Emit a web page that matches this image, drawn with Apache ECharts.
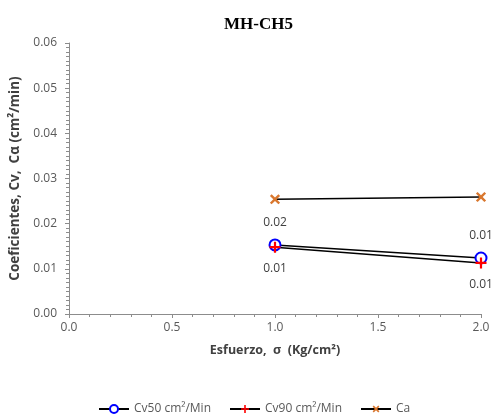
<!DOCTYPE html>
<html><head><meta charset="utf-8">
<script src="https://cdn.jsdelivr.net/npm/echarts@6/dist/echarts.min.js"></script>
<style>html,body{margin:0;padding:0;background:#fff}#c{width:493px;height:419px}</style>
</head><body><div id="c"></div>
<script>
const esfuerzo = [1.0, 2.0];
const cv50 = [0.0153, 0.0124];
const cv90 = [0.0148, 0.0113];
const ca = [0.0254, 0.0259];
const seriesNames = ['Cv50 cm²/Min', 'Cv90 cm²/Min', 'Ca'];
const title = 'MH-CH5';

const pair = arr => esfuerzo.map((x, i) => [x, arr[i]]);
const plusPath = 'path://M4,0H6V4H10V6H6V10H4V6H0V4H4Z';
const lbl = (pos) => ({show: true, position: pos, distance: 10, color: '#404040', fontSize: 12,
  fontFamily: 'Open Sans', formatter: p => p.value[1].toFixed(2)});

const chart = echarts.init(document.getElementById('c'));
chart.setOption({
  animation: false,
  title: {text: title, left: 219, top: 11, textStyle: {fontFamily: 'Liberation Serif', fontWeight: 'bold', fontSize: 17, color: '#000'}},
  grid: {left: 69, right: 12, top: 43, bottom: 105},
  xAxis: {type: 'value', min: 0, max: 2, interval: 0.5,
    name: 'Esfuerzo,  σ  (Kg/cm²)', nameLocation: 'middle', nameGap: 30,
    nameTextStyle: {fontFamily: 'Open Sans', fontWeight: 'bold', fontSize: 12.5, color: '#404040'},
    axisLine: {lineStyle: {color: '#8c8c8c'}},
    axisTick: {inside: false, length: 4, lineStyle: {color: '#8c8c8c'}},
    minorTick: {show: true, splitNumber: 5, length: 3, lineStyle: {color: '#8c8c8c'}},
    axisLabel: {formatter: v => v.toFixed(1), color: '#595959', fontSize: 12, fontFamily: 'Open Sans', margin: 8},
    splitLine: {show: false}},
  yAxis: {type: 'value', min: 0, max: 0.06, interval: 0.01,
    name: 'Coeficientes, Cv,  Cα (cm²/min)', nameLocation: 'middle', nameGap: 43,
    nameTextStyle: {fontFamily: 'Open Sans', fontWeight: 'bold', fontSize: 13.5, color: '#404040'},
    axisLine: {show: true, lineStyle: {color: '#8c8c8c'}},
    axisTick: {show: true, length: 4, lineStyle: {color: '#8c8c8c'}},
    minorTick: {show: true, splitNumber: 10, length: 3, lineStyle: {color: '#8c8c8c'}},
    axisLabel: {formatter: v => v.toFixed(2), color: '#595959', fontSize: 12, fontFamily: 'Open Sans', margin: 12},
    splitLine: {show: false}},
  legend: {bottom: -1, left: 93, itemGap: 18, itemWidth: 30, itemHeight: 10,
    textStyle: {fontFamily: 'Open Sans', fontSize: 12, color: '#595959'},
    data: seriesNames},
  series: [
    {name: seriesNames[0], type: 'line', data: pair(cv50), symbol: 'emptyCircle', symbolSize: 11,
      lineStyle: {color: '#000', width: 1.5}, itemStyle: {color: '#0000ff', borderWidth: 2},
      label: lbl('top')},
    {name: seriesNames[1], type: 'line', data: pair(cv90), symbol: plusPath, symbolSize: 11,
      lineStyle: {color: '#000', width: 1.5}, itemStyle: {color: '#ff0000'},
      label: lbl('bottom')},
    {name: seriesNames[2], type: 'line', data: pair(ca), symbol: plusPath, symbolRotate: 45, symbolSize: 12,
      lineStyle: {color: '#000', width: 1.5}, itemStyle: {color: '#d9772e'}}
  ]
});
</script></body></html>
